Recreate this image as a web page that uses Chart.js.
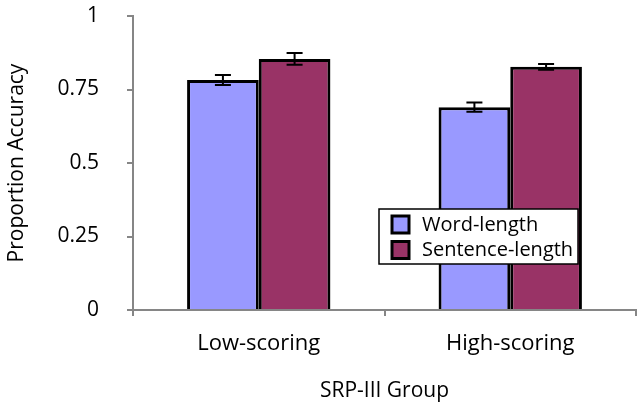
<!DOCTYPE html>
<html>
<head>
<meta charset="utf-8">
<script src="https://cdn.jsdelivr.net/npm/chart.js@4.4.1/dist/chart.umd.min.js"></script>
<style>
  html, body { margin: 0; padding: 0; background: #fff; }
  #wrap { width: 638px; height: 404px; }
</style>
</head>
<body>
<div id="wrap"><canvas id="chart"></canvas></div>
<script>
// data
const groups = ['Low-scoring', 'High-scoring'];
const wordLength = [0.782, 0.690];
const wordErr = [0.017, 0.016];
const sentenceLength = [0.854, 0.827];
const sentenceErr = [0.020, 0.010];
const yTicks = [0, 0.25, 0.5, 0.75, 1];

const FONT = "'Open Sans', sans-serif";

// 1. Error bars drawn through the scales
const errorBars = {
    id: 'errorBars',
    afterDatasetsDraw(chart) {
        const c = chart.ctx, y = chart.scales.y;
        c.save();
        c.strokeStyle = '#000';
        c.lineWidth = 2;
        chart.data.datasets.forEach((ds, i) => {
            chart.getDatasetMeta(i).data.forEach((bar, j) => {
                const v = ds.data[j], e = ds.err[j];
                const top = y.getPixelForValue(v + e), bot = y.getPixelForValue(v - e);
                const x = bar.x, w = 8;
                c.beginPath();
                c.moveTo(x, top); c.lineTo(x, bot);
                c.moveTo(x - w, top); c.lineTo(x + w, top);
                c.moveTo(x - w, bot); c.lineTo(x + w, bot);
                c.stroke();
            });
        });
        c.restore();
    }
};

// 2. Boxed legend inside the plot
const boxLegend = {
    id: 'boxLegend',
    afterDraw(chart) {
        const c = chart.ctx, a = chart.chartArea;
        const x0 = a.left + 246, y0 = a.top + 193, w = 199, h = 55;
        c.save();
        c.fillStyle = '#fff';
        c.fillRect(x0, y0, w, h);
        c.strokeStyle = '#000';
        c.lineWidth = 1.5;
        c.strokeRect(x0, y0, w, h);
        c.font = '20px ' + FONT;
        c.textBaseline = 'middle';
        chart.data.datasets.forEach((ds, i) => {
            const cy = y0 + 15 + i * 25.5;
            c.fillStyle = ds.backgroundColor;
            c.fillRect(x0 + 13, cy - 8, 17, 17);
            c.lineWidth = 3;
            c.strokeRect(x0 + 13, cy - 8, 17, 17);
            c.fillStyle = '#000';
            c.fillText(ds.label, x0 + 43, cy + 1);
        });
        c.restore();
    }
};

new Chart(document.getElementById('chart'), {
    type: 'bar',
    data: {
        labels: groups,
        datasets: [
            { label: 'Word-length', data: wordLength, err: wordErr,
              backgroundColor: '#9999ff', borderColor: '#000', borderWidth: 3,
              categoryPercentage: 0.57, barPercentage: 1.0 },
            { label: 'Sentence-length', data: sentenceLength, err: sentenceErr,
              backgroundColor: '#993366', borderColor: '#000', borderWidth: 3,
              categoryPercentage: 0.57, barPercentage: 1.0 }
        ]
    },
    options: {
        responsive: true,
        maintainAspectRatio: false,
        animation: false,
        layout: { padding: { top: 16, right: 2, left: 0, bottom: 0 } },
        scales: {
            x: {
                grid: { offset: true, drawOnChartArea: false, color: '#868686', lineWidth: 2, tickLength: 6 },
                border: { color: '#868686', width: 2 },
                ticks: { color: '#000', font: { family: FONT, size: 22 }, padding: 15 },
                title: { display: true, text: 'SRP-III Group', color: '#000',
                         font: { family: FONT, size: 21 }, padding: { top: 1, bottom: 0 } },
                afterFit: s => { s.height = 94; s.paddingLeft = 0; s.paddingRight = 0; }
            },
            y: {
                min: 0, max: 1,
                afterBuildTicks: s => { s.ticks = yTicks.map(v => ({ value: v })); },
                grid: { drawOnChartArea: false, color: '#868686', lineWidth: 2, tickLength: 6 },
                border: { color: '#868686', width: 2 },
                ticks: { color: '#000', font: { family: FONT, size: 21 }, padding: 28,
                         callback: v => String(v) },
                title: { display: true, text: 'Proportion Accuracy', color: '#000',
                         font: { family: FONT, size: 21 }, padding: { top: 4, bottom: 0 } },
                afterFit: s => { s.width = 133; s.paddingTop = 0; s.paddingBottom = 0; }
            }
        },
        plugins: { legend: { display: false }, tooltip: { enabled: false } }
    },
    plugins: [errorBars, boxLegend]
});
</script>
</body>
</html>
